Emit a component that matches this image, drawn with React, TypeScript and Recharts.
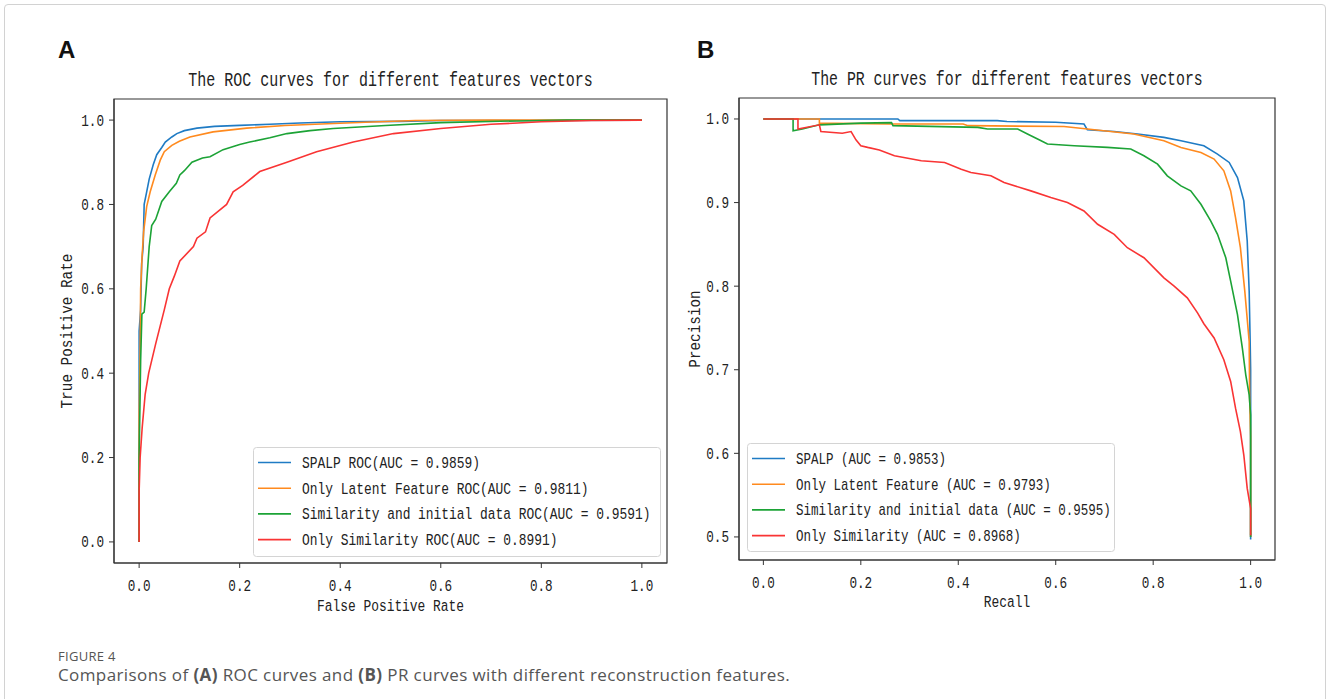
import React from 'react';
import { LineChart, Line, XAxis, YAxis, ReferenceArea, Legend } from 'recharts';

// ROC curves, [fpr, tpr]
const rocSpalp = [
  [0, 0], [0, 0.5], [0.003, 0.55], [0.005, 0.66], [0.008, 0.7], [0.01, 0.8], [0.015, 0.83], [0.02, 0.86],
  [0.028, 0.894], [0.035, 0.918], [0.045, 0.935], [0.052, 0.948], [0.065, 0.96], [0.075, 0.968], [0.09, 0.975],
  [0.115, 0.981], [0.15, 0.985], [0.2, 0.9875], [0.26, 0.99], [0.32, 0.993], [0.4, 0.996], [0.52, 0.997],
  [0.6, 0.999], [0.8, 0.999], [1, 1],
];
const rocLatent = [
  [0, 0], [0, 0.3], [0.002, 0.45], [0.003, 0.6], [0.006, 0.68], [0.009, 0.736], [0.015, 0.795], [0.022, 0.83],
  [0.032, 0.87], [0.042, 0.905], [0.05, 0.925], [0.065, 0.94], [0.08, 0.95], [0.101, 0.96], [0.147, 0.972],
  [0.214, 0.981], [0.29, 0.987], [0.35, 0.99], [0.45, 0.995], [0.55, 0.999], [0.7, 1], [1, 1],
];
const rocSimInit = [
  [0, 0], [0, 0.2], [0.003, 0.43], [0.0055, 0.54], [0.01, 0.545], [0.014, 0.6], [0.02, 0.7], [0.025, 0.75],
  [0.033, 0.765], [0.045, 0.807], [0.06, 0.83], [0.074, 0.85], [0.081, 0.87], [0.09, 0.88], [0.105, 0.9],
  [0.126, 0.91], [0.141, 0.913], [0.167, 0.93], [0.2, 0.942], [0.22, 0.948], [0.26, 0.958], [0.294, 0.968],
  [0.34, 0.975], [0.386, 0.98], [0.49, 0.987], [0.6, 0.994], [0.75, 0.998], [0.85, 1], [1, 1],
];
const rocSim = [
  [0, 0], [0, 0.12], [0.002, 0.2], [0.006, 0.27], [0.012, 0.35], [0.019, 0.4], [0.033, 0.47], [0.05, 0.55],
  [0.06, 0.6], [0.07, 0.63], [0.081, 0.666], [0.108, 0.7], [0.115, 0.72], [0.132, 0.735], [0.141, 0.768],
  [0.174, 0.8], [0.187, 0.83], [0.206, 0.845], [0.24, 0.878], [0.294, 0.9], [0.353, 0.925], [0.426, 0.948],
  [0.506, 0.968], [0.6, 0.98], [0.7, 0.99], [0.8, 0.996], [0.9, 0.999], [1, 1],
];

// PR curves, [recall, precision]
const prSpalp = [
  [0, 1], [0.276, 1], [0.28, 0.998], [0.48, 0.998], [0.5, 0.997], [0.6, 0.996], [0.658, 0.994], [0.665, 0.987],
  [0.72, 0.985], [0.768, 0.982], [0.822, 0.978], [0.857, 0.974], [0.904, 0.968], [0.932, 0.958], [0.956, 0.948],
  [0.973, 0.93], [0.986, 0.902], [0.993, 0.854], [0.997, 0.794], [0.999, 0.734], [1, 0.7], [1, 0.497],
];
const prLatent = [
  [0, 1], [0.115, 1], [0.115, 0.995], [0.26, 0.994], [0.41, 0.994], [0.42, 0.992], [0.617, 0.991], [0.665, 0.988],
  [0.76, 0.982], [0.822, 0.974], [0.857, 0.966], [0.898, 0.96], [0.925, 0.952], [0.945, 0.938], [0.959, 0.914],
  [0.969, 0.882], [0.979, 0.846], [0.988, 0.794], [0.997, 0.734], [0.998, 0.666], [1, 0.62], [1, 0.5],
];
const prSimInit = [
  [0, 1], [0.061, 1], [0.061, 0.986], [0.08, 0.988], [0.115, 0.993], [0.2, 0.995], [0.263, 0.9956], [0.266, 0.992],
  [0.44, 0.99], [0.46, 0.988], [0.522, 0.988], [0.542, 0.982], [0.57, 0.974], [0.583, 0.97], [0.638, 0.968],
  [0.706, 0.966], [0.754, 0.964], [0.781, 0.956], [0.809, 0.946], [0.829, 0.932], [0.857, 0.92], [0.877, 0.914],
  [0.898, 0.898], [0.918, 0.878], [0.932, 0.862], [0.949, 0.834], [0.959, 0.806], [0.973, 0.766], [0.983, 0.726],
  [0.99, 0.694], [0.997, 0.67], [1, 0.646], [1, 0.5],
];
const prSim = [
  [0, 1], [0.071, 1], [0.071, 0.988], [0.115, 0.993], [0.118, 0.985], [0.162, 0.983], [0.18, 0.985], [0.19, 0.975],
  [0.2, 0.968], [0.214, 0.966], [0.238, 0.963], [0.269, 0.956], [0.324, 0.95], [0.372, 0.948], [0.406, 0.94],
  [0.426, 0.936], [0.467, 0.932], [0.494, 0.924], [0.549, 0.914], [0.59, 0.906], [0.624, 0.9], [0.658, 0.89],
  [0.686, 0.874], [0.72, 0.862], [0.747, 0.846], [0.781, 0.834], [0.822, 0.81], [0.843, 0.8], [0.87, 0.786],
  [0.891, 0.768], [0.904, 0.755], [0.925, 0.738], [0.945, 0.712], [0.959, 0.686], [0.969, 0.654], [0.979, 0.626],
  [0.986, 0.598], [0.993, 0.558], [1, 0.534], [1, 0.502],
];

const rocTicks = [0, 0.2, 0.4, 0.6, 0.8, 1.0];
const prXTicks = [0, 0.2, 0.4, 0.6, 0.8, 1.0];
const prYTicks = [0.5, 0.6, 0.7, 0.8, 0.9, 1.0];

const rocNames = [
  'SPALP ROC(AUC = 0.9859)',
  'Only Latent Feature ROC(AUC = 0.9811)',
  'Similarity and initial data ROC(AUC = 0.9591)',
  'Only Similarity ROC(AUC = 0.8991)',
];
const prNames = [
  'SPALP (AUC = 0.9853)',
  'Only Latent Feature (AUC = 0.9793)',
  'Similarity and initial data (AUC = 0.9595)',
  'Only Similarity (AUC = 0.8968)',
];
const colors = ['#1f7bc4', '#ff8a1e', '#1ca336', '#f93434'];

const rocSeries = [rocSpalp, rocLatent, rocSimInit, rocSim];
const prSeries = [prSpalp, prLatent, prSimInit, prSim];

const MONO = '"Liberation Mono", "DejaVu Sans Mono", monospace';
const INK = '#222';
const SPINE = '#333';

const toPoints = (arr: number[][]) => arr.map(([x, y]) => ({ x, y }));

// monospace text squashed to a given advance per character (the figure is narrow-set)
function SqText(props: { x: number; y: number; size: number; cw: number; anchor?: string; rotate?: boolean; children: string }) {
  const { x, y, size, cw, anchor = 'start', rotate = false, children } = props;
  const sx = cw / (0.6 * size);
  const tf = rotate ? `translate(${x},${y}) rotate(-90) scale(${sx},1)` : `translate(${x},${y}) scale(${sx},1)`;
  return (
    <text transform={tf} x={0} y={0} textAnchor={anchor as any} fontFamily={MONO} fontSize={size} fill={INK}>{children}</text>
  );
}

function XTick(props: any) {
  const { x, y, payload } = props;
  return <SqText x={x} y={y + 21} size={17} cw={7.6} anchor="middle">{Number(payload.value).toFixed(1)}</SqText>;
}

function YTick(props: any) {
  const { x, y, payload } = props;
  return <SqText x={x - 3} y={y + 5.5} size={17} cw={7.6} anchor="end">{Number(payload.value).toFixed(1)}</SqText>;
}

function legendBox(names: string[], w: number, h: number, cw: number) {
  return () => (
    <svg width={w} height={h} style={{ display: 'block', overflow: 'visible' }}>
      <rect x={0.5} y={0.5} width={w - 1} height={h - 1} rx={3} fill="#fff" fillOpacity={0.8} stroke="#d4d4d4" />
      {names.map((n, i) => {
        const cy = 15.5 + i * 25.7;
        return (
          <g key={n}>
            <line x1={5} x2={38} y1={cy} y2={cy} stroke={colors[i]} strokeWidth={1.6} />
            <SqText x={49} y={cy + 5.5} size={17} cw={cw}>{n}</SqText>
          </g>
        );
      })}
    </svg>
  );
}

function Panel(props: {
  left: number; width: number; height: number; margin: any; yWidth: number; xHeight: number;
  yDomain: number[]; xTicks: number[]; yTicks: number[]; series: number[][][];
  legend: { names: string[]; left: number; top: number; w: number; h: number; cw: number };
}) {
  const { left, width, height, margin, yWidth, xHeight, yDomain, xTicks, yTicks, series, legend } = props;
  return (
    <div style={{ position: 'absolute', left, top: 0 }}>
      <LineChart width={width} height={height} margin={margin}>
        <XAxis type="number" dataKey="x" domain={[-0.05, 1.05]} ticks={xTicks} allowDataOverflow
          height={xHeight} tickSize={5} stroke={SPINE} tickLine={{ stroke: SPINE }} tick={<XTick />} />
        <YAxis type="number" dataKey="y" domain={yDomain} ticks={yTicks} allowDataOverflow
          width={yWidth} tickSize={5} stroke={SPINE} tickLine={{ stroke: SPINE }} tick={<YTick />} />
        <ReferenceArea x1={-0.05} x2={1.05} y1={yDomain[0]} y2={yDomain[1]} fill="none"
          stroke={SPINE} strokeWidth={1.2} ifOverflow="visible" />
        {series.map((s, i) => (
          <Line key={i} data={toPoints(s)} dataKey="y" type="linear" stroke={colors[i]} strokeWidth={1.6}
            dot={false} activeDot={false} isAnimationActive={false} />
        ))}
        <Legend layout="horizontal" verticalAlign="middle" align="center"
          wrapperStyle={{ position: 'absolute', left: legend.left, top: legend.top, width: legend.w, height: legend.h, margin: 0 }}
          content={legendBox(legend.names, legend.w, legend.h, legend.cw)} />
      </LineChart>
    </div>
  );
}

export default function App() {
  return (
    <div style={{ position: 'absolute', left: 0, top: 0, width: 1330, height: 699, overflow: 'hidden', background: '#fff' }}>
      <div style={{ position: 'absolute', left: 4, top: 4, width: 1320, height: 900, border: '1px solid #d2d2d2', borderRadius: 4 }} />
      <Panel left={0} width={700} height={640} margin={{ top: 99, right: 33, left: 0, bottom: 0 }}
        yWidth={114} xHeight={77} yDomain={[-0.05, 1.05]} xTicks={rocTicks} yTicks={rocTicks}
        series={rocSeries} legend={{ names: rocNames, left: 253, top: 447, w: 408, h: 110, cw: 7.75 }} />
      <Panel left={680} width={650} height={640} margin={{ top: 98, right: 55, left: 0, bottom: 0 }}
        yWidth={59} xHeight={80} yDomain={[0.4724, 1.0251]} xTicks={prXTicks} yTicks={prYTicks}
        series={prSeries} legend={{ names: prNames, left: 67, top: 443, w: 368, h: 109, cw: 7.5 }} />
      <svg width={1330} height={640} style={{ position: 'absolute', left: 0, top: 0, pointerEvents: 'none' }}>
        <text x={58} y={58} fontFamily='"Liberation Sans", Arial, sans-serif' fontWeight="bold" fontSize={24} fill="#111">A</text>
        <text x={697} y={58} fontFamily='"Liberation Sans", Arial, sans-serif' fontWeight="bold" fontSize={24} fill="#111">B</text>
        <SqText x={390.5} y={86} size={20} cw={9} anchor="middle">The ROC curves for different features vectors</SqText>
        <SqText x={1007} y={85} size={20} cw={8.9} anchor="middle">The PR curves for different features vectors</SqText>
        <SqText x={390.5} y={610.5} size={17} cw={7.75} anchor="middle">False Positive Rate</SqText>
        <SqText x={1007} y={607} size={17} cw={7.75} anchor="middle">Recall</SqText>
        <SqText x={71.5} y={331} size={17} cw={8.6} anchor="middle" rotate>True Positive Rate</SqText>
        <SqText x={699.5} y={329} size={17} cw={8.6} anchor="middle" rotate>Precision</SqText>
      </svg>
      <div style={{ position: 'absolute', left: 58, top: 647, fontFamily: '"Open Sans", sans-serif', fontSize: 13, letterSpacing: 0.3, color: '#555', lineHeight: '18px' }}>
        FIGURE 4
      </div>
      <div style={{ position: 'absolute', left: 58, top: 664, fontFamily: '"Open Sans", sans-serif', fontSize: 17, letterSpacing: 0.4, color: '#555', lineHeight: '22px', whiteSpace: 'nowrap' }}>
        Comparisons of <b>(A)</b> ROC curves and <b>(B)</b> PR curves with different reconstruction features.
      </div>
    </div>
  );
}
